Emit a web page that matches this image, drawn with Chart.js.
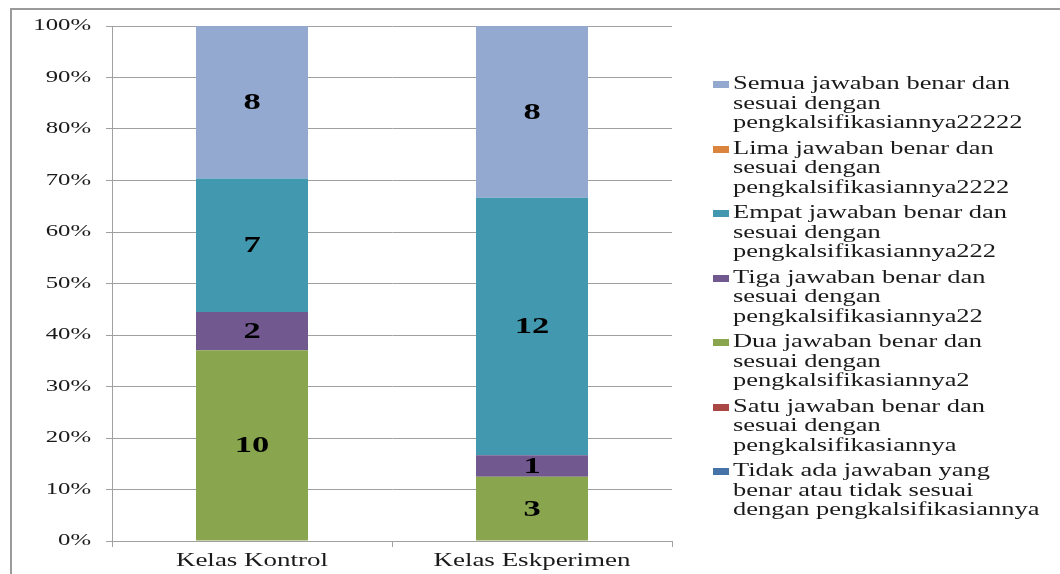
<!DOCTYPE html>
<html>
<head>
<meta charset="utf-8">
<script src="https://cdn.jsdelivr.net/npm/chart.js@4/dist/chart.umd.min.js"></script>
<style>
  body { margin: 0; background: #fff; }
  #wrap { position: relative; width: 1060px; height: 574px; overflow: hidden; }
  #frame { position: absolute; left: 10px; top: 8px; width: 1100px; height: 600px;
           border-left: 2px solid #9a9a9a; border-top: 2px solid #9a9a9a; }
  #chart { position: absolute; left: 0; top: 0; }
  .leg { position: absolute; left: 713px; }
  .leg .box { position: absolute; left: 0; top: 7px; width: 16px; height: 7px; }
  .leg .txt { position: absolute; left: 20px; top: 0; white-space: nowrap;
              font-family: "Liberation Serif", serif; font-size: 18px; line-height: 19.5px;
              color: #1a1a1a; transform: scaleX(1.47); transform-origin: 0 0; }
</style>
</head>
<body>
<div id="wrap">
  <div id="frame"></div>
  <canvas id="chart" width="1060" height="574"></canvas>
  <div id="legend"></div>
</div>
<script>
// categories and counts per answer group (bottom of stack first)
const categories = ['Kelas Kontrol', 'Kelas Eskperimen'];
const tidakAda = [0, 0];
const satu = [0, 0];
const dua = [10, 3];
const tiga = [2, 1];
const empat = [7, 12];
const lima = [0, 0];
const semua = [8, 8];
const yTicks = [0, 10, 20, 30, 40, 50, 60, 70, 80, 90, 100];

const seriesNames = [
  ['Tidak ada jawaban yang', 'benar atau tidak sesuai', 'dengan pengkalsifikasiannya'],
  ['Satu jawaban benar dan', 'sesuai dengan', 'pengkalsifikasiannya'],
  ['Dua jawaban benar dan', 'sesuai dengan', 'pengkalsifikasiannya2'],
  ['Tiga jawaban benar dan', 'sesuai dengan', 'pengkalsifikasiannya22'],
  ['Empat jawaban benar dan', 'sesuai dengan', 'pengkalsifikasiannya222'],
  ['Lima jawaban benar dan', 'sesuai dengan', 'pengkalsifikasiannya2222'],
  ['Semua jawaban benar dan', 'sesuai dengan', 'pengkalsifikasiannya22222']
];
const seriesColors = ['#4572A7', '#AA4643', '#89A54E', '#71588F', '#4198AF', '#DB843D', '#93A9CF'];
const seriesCounts = [tidakAda, satu, dua, tiga, empat, lima, semua];

// totals per class -> percentages for the 100% stack
const totals = categories.map((c, i) => seriesCounts.reduce((s, arr) => s + arr[i], 0));

const canvas = document.getElementById('chart');
const ctx = canvas.getContext('2d');

// the reference picture is stretched sideways, so stretch canvas text the same way
const SX = 1.5;
const origFill = ctx.fillText.bind(ctx);
const origMeasure = ctx.measureText.bind(ctx);
ctx.fillText = function (t, x, y) {
  this.save();
  this.translate(x, y);
  this.scale(SX, 1);
  origFill(t, 0, 0);
  this.restore();
};
ctx.measureText = function (t) {
  const m = origMeasure(t);
  return { width: m.width * SX, actualBoundingBoxAscent: m.actualBoundingBoxAscent, actualBoundingBoxDescent: m.actualBoundingBoxDescent };
};

const countLabels = {
  id: 'countLabels',
  afterDatasetsDraw(chart) {
    const c = chart.ctx;
    c.save();
    c.font = 'bold 23px "Liberation Serif", serif';
    c.fillStyle = '#000';
    c.textAlign = 'center';
    c.textBaseline = 'middle';
    chart.data.datasets.forEach((ds, di) => {
      chart.getDatasetMeta(di).data.forEach((bar, i) => {
        const n = ds.counts[i];
        if (!n) return;
        c.fillText(String(n), bar.x, (bar.y + bar.base) / 2 + 1);
      });
    });
    c.restore();
  }
};

new Chart(ctx, {
  type: 'bar',
  data: {
    labels: categories,
    datasets: seriesCounts.map((arr, k) => ({
      label: seriesNames[k].join(' '),
      counts: arr,
      data: arr.map((v, i) => v / totals[i] * 100),
      backgroundColor: seriesColors[k],
      borderWidth: 0,
      barPercentage: 0.4,
      categoryPercentage: 1
    }))
  },
  options: {
    responsive: false,
    animation: false,
    layout: { padding: { left: 0, right: 388, top: 26, bottom: 0 } },
    plugins: { legend: { display: false }, tooltip: { enabled: false } },
    scales: {
      x: {
        stacked: true,
        grid: { display: true, drawOnChartArea: false, drawTicks: true, tickLength: 6, offset: true, color: '#a0a0a0' },
        border: { display: true, color: '#a0a0a0' },
        ticks: { font: { family: '"Liberation Serif", serif', size: 18 }, color: '#1a1a1a', padding: 3 },
        afterFit: s => { s.height = 33; }
      },
      y: {
        stacked: true,
        min: 0,
        max: 100,
        afterBuildTicks: s => { s.ticks = yTicks.map(v => ({ value: v })); },
        grid: { color: '#a0a0a0', tickLength: 6, drawTicks: true },
        border: { display: true, color: '#a0a0a0' },
        ticks: { callback: v => v + '%', font: { family: '"Liberation Serif", serif', size: 16.5 }, color: '#1a1a1a', padding: 15 },
        afterFit: s => { s.width = 112; }
      }
    }
  },
  plugins: [countLabels]
});

// legend, top to bottom in reverse stack order
const legend = document.getElementById('legend');
for (let k = seriesNames.length - 1, row = 0; k >= 0; k--, row++) {
  const item = document.createElement('div');
  item.className = 'leg';
  item.style.top = (74 + row * 64.5) + 'px';
  item.innerHTML = '<div class="box" style="background:' + seriesColors[k] + '"></div>' +
    '<div class="txt">' + seriesNames[k].join('<br>') + '</div>';
  legend.appendChild(item);
}
</script>
</body>
</html>
